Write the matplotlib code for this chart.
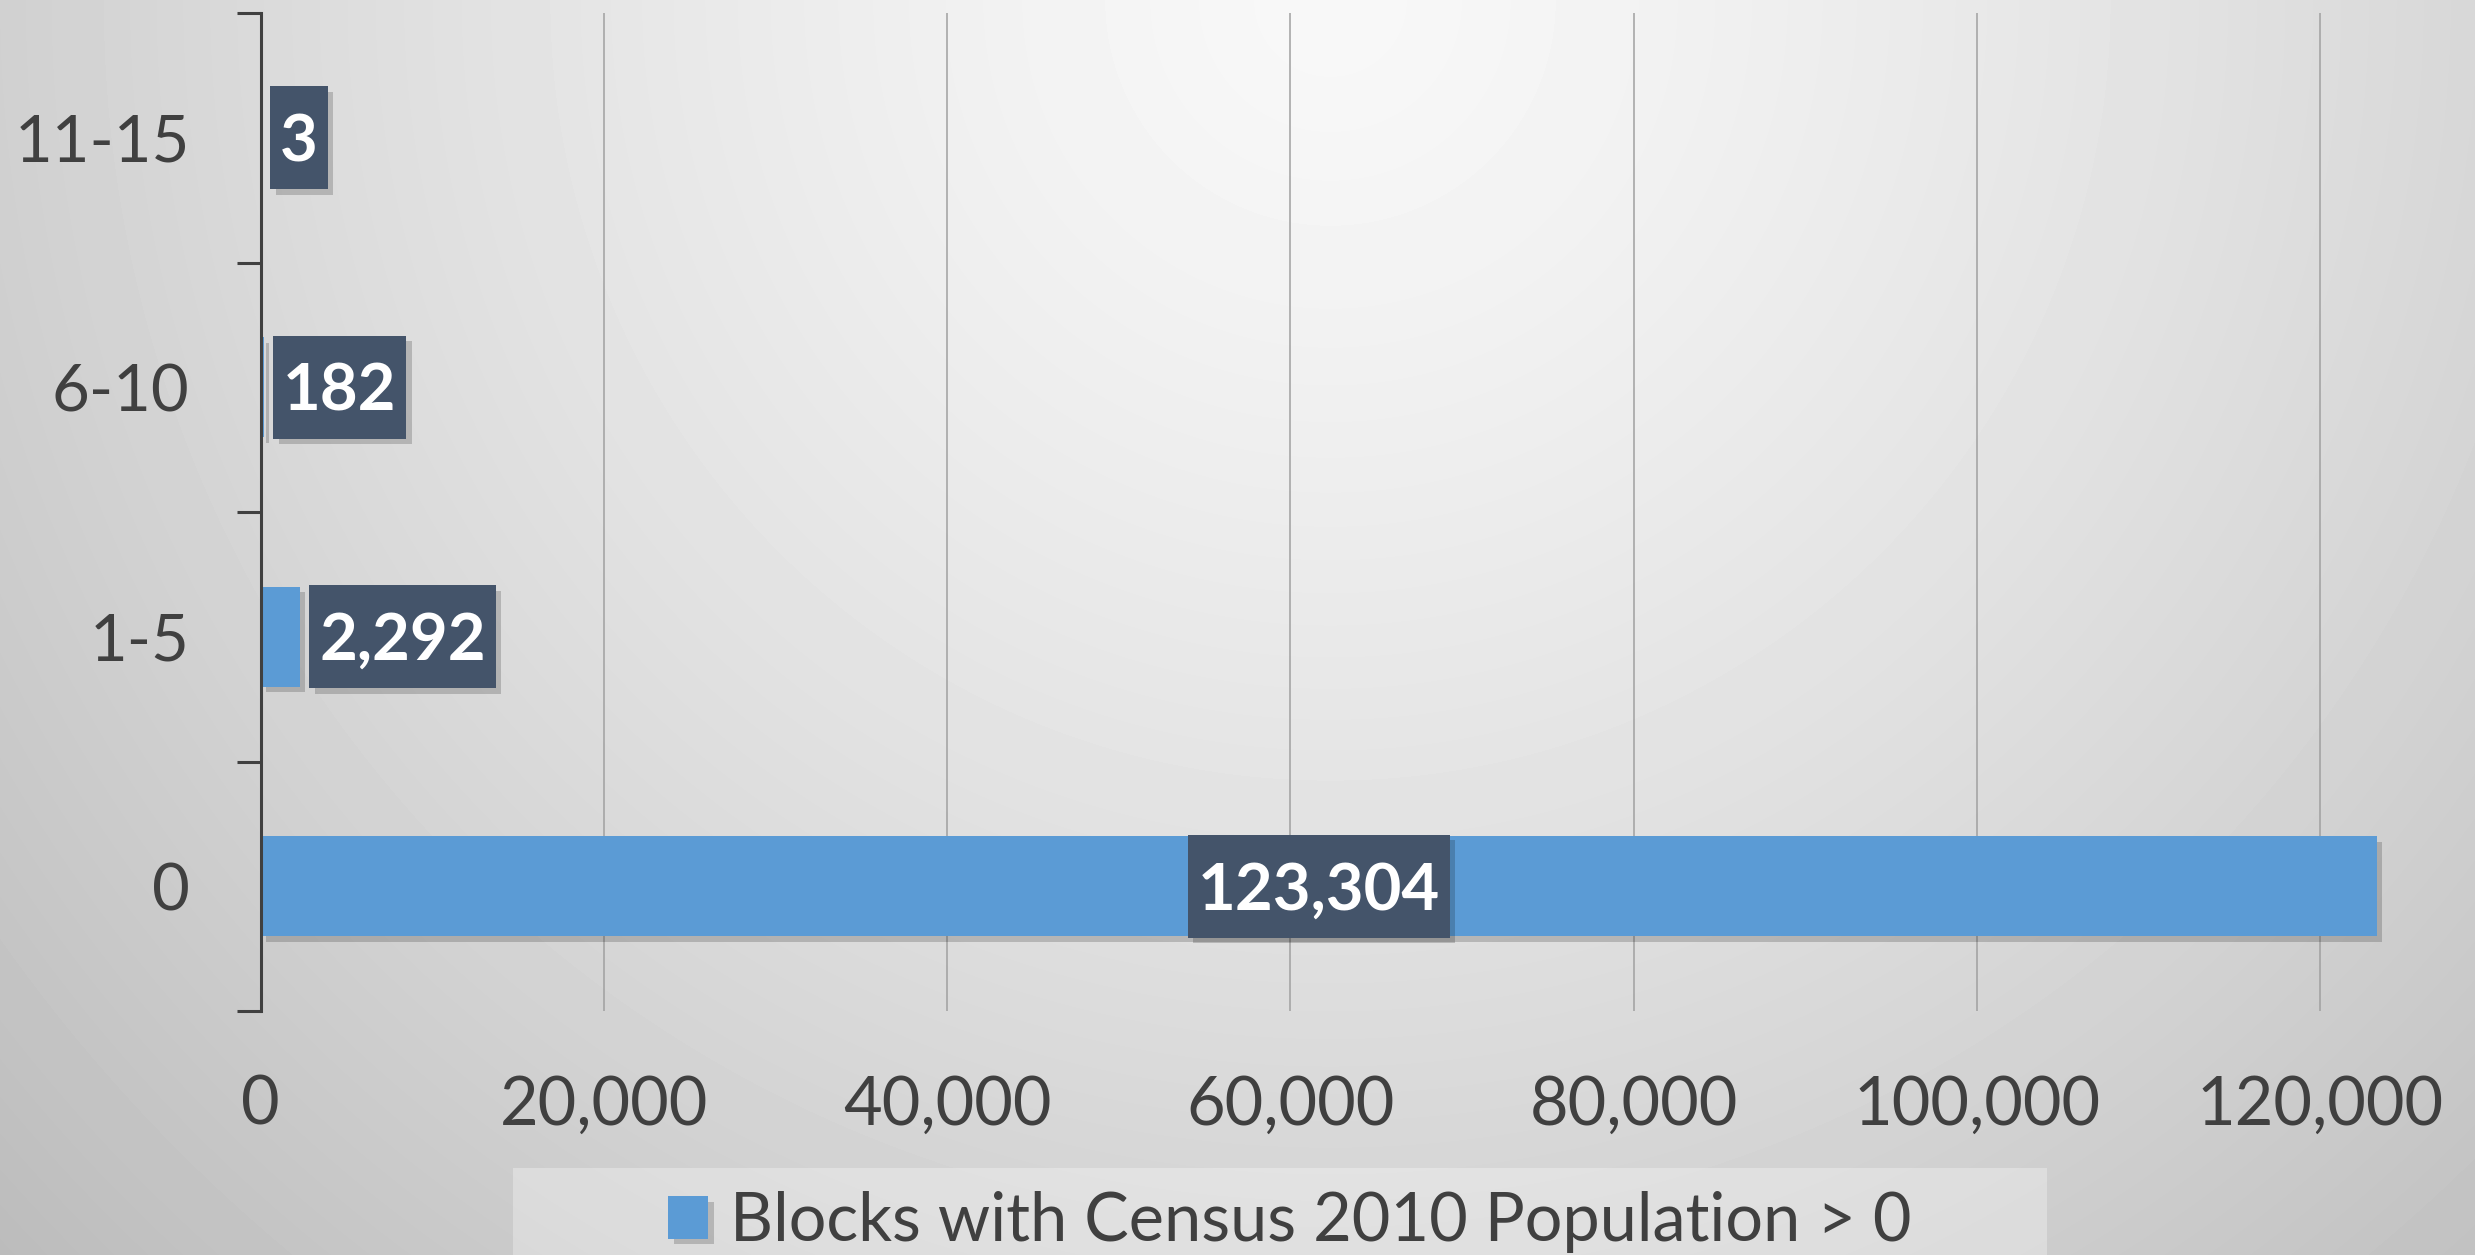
import numpy as np
import matplotlib
matplotlib.use('Agg')
import matplotlib.pyplot as plt
from matplotlib import patheffects
from matplotlib.patches import Rectangle
from matplotlib.path import Path

# data
categories = ['0', '1-5', '6-10', '11-15']
blocks = [123304, 2292, 182, 3]
x_ticks = [0, 20000, 40000, 60000, 80000, 100000, 120000]
series_name = 'Blocks with Census 2010 Population > 0'

plt.rcParams['font.family'] = ['Lato', 'DejaVu Sans']
text_col = '#404040'

fig = plt.figure(figsize=(24.75, 12.55), dpi=100)

# light radial gradient behind everything
bg = fig.add_axes([0, 0, 1, 1], zorder=-10)
yy, xx = np.mgrid[0:1255, 0:2475]
d = np.hypot(xx - 1330, yy) / 1070
shade = np.clip(248 - 30 * d ** 1.3, 188, 255) / 255
bg.imshow(shade, cmap='gray', vmin=0, vmax=1, aspect='auto', interpolation='bilinear')
bg.axis('off')

ax = fig.add_axes([260.5 / 2475, 244 / 1255, 2403 / 2475, 998 / 1255])
ax.set_facecolor('none')

shadow = [patheffects.SimplePatchShadow(offset=(4, -4), shadow_rgbFace='k', alpha=0.18),
          patheffects.Normal()]

ypos = np.arange(len(categories))
bars = ax.barh(ypos, blocks, height=0.4, color='#5B9BD5', zorder=3, label=series_name)
for b in bars:
    b.set_path_effects(shadow)

ax.set_xlim(0, 140000)
ax.set_ylim(-0.5, len(categories) - 0.5)
ax.set_xticks(x_ticks)
ax.set_xticklabels([f'{v:,}' for v in x_ticks])
ax.tick_params(axis='x', length=0, pad=46, labelsize=48, labelcolor=text_col)
ax.grid(axis='x', color='#A0A0A0', linewidth=1.1, zorder=0)
ax.set_axisbelow(True)

# ticks between categories, labels at centres
ax.set_yticks(np.arange(len(categories) + 1) - 0.5)
ax.set_yticklabels([])
ax.set_yticks(ypos, minor=True)
ax.set_yticklabels(categories, minor=True)
ax.tick_params(axis='y', which='major', length=17, width=2.2, color=text_col)
ax.tick_params(axis='y', which='minor', length=0, pad=51, labelsize=47, labelcolor=text_col)

for s in ['top', 'right', 'bottom']:
    ax.spines[s].set_visible(False)
ax.spines['left'].set_color(text_col)
ax.spines['left'].set_linewidth(2.2)
ax.spines['left'].set_zorder(4)


def label_box(x0, y0, width, height, mutation_size):
    # tall, narrow box like the Excel data callouts
    px = 0.15 * mutation_size
    ptop = 0.41 * mutation_size
    pbot = 0.26 * mutation_size
    return Path([(x0 - px, y0 - pbot), (x0 + width + px, y0 - pbot),
                 (x0 + width + px, y0 + height + ptop), (x0 - px, y0 + height + ptop),
                 (x0 - px, y0 - pbot)], closed=True)


# data labels
for i, v in enumerate(blocks):
    box = dict(boxstyle=label_box, fc='#44546A', ec='none')
    if v > 0.5 * max(blocks):
        t = ax.annotate(f'{v:,}', xy=(v / 2, i), xytext=(0, -3.5), textcoords='offset points',
                        ha='center', va='center', fontsize=47, fontweight='bold',
                        color='white', bbox=box, zorder=5)
    else:
        t = ax.annotate(f'{v:,}', xy=(v, i), xytext=(14, -3.5), textcoords='offset points',
                        ha='left', va='center', fontsize=47, fontweight='bold',
                        color='white', bbox=box, zorder=5)
    t.get_bbox_patch().set_path_effects(shadow)

# legend
fig.add_artist(Rectangle((513 / 2475, 0), 1534 / 2475, 87 / 1255, transform=fig.transFigure,
                         fc='white', alpha=0.3, ec='none', zorder=-5))
fig.legend(handles=[bars], labels=[series_name], loc='center',
           bbox_to_anchor=(1290 / 2475, 1 - 1222 / 1255), frameon=False,
           fontsize=48, labelcolor=text_col, handlelength=0.6, handleheight=0.6,
           handletextpad=0.33)

fig.savefig('out.png', dpi=100)
